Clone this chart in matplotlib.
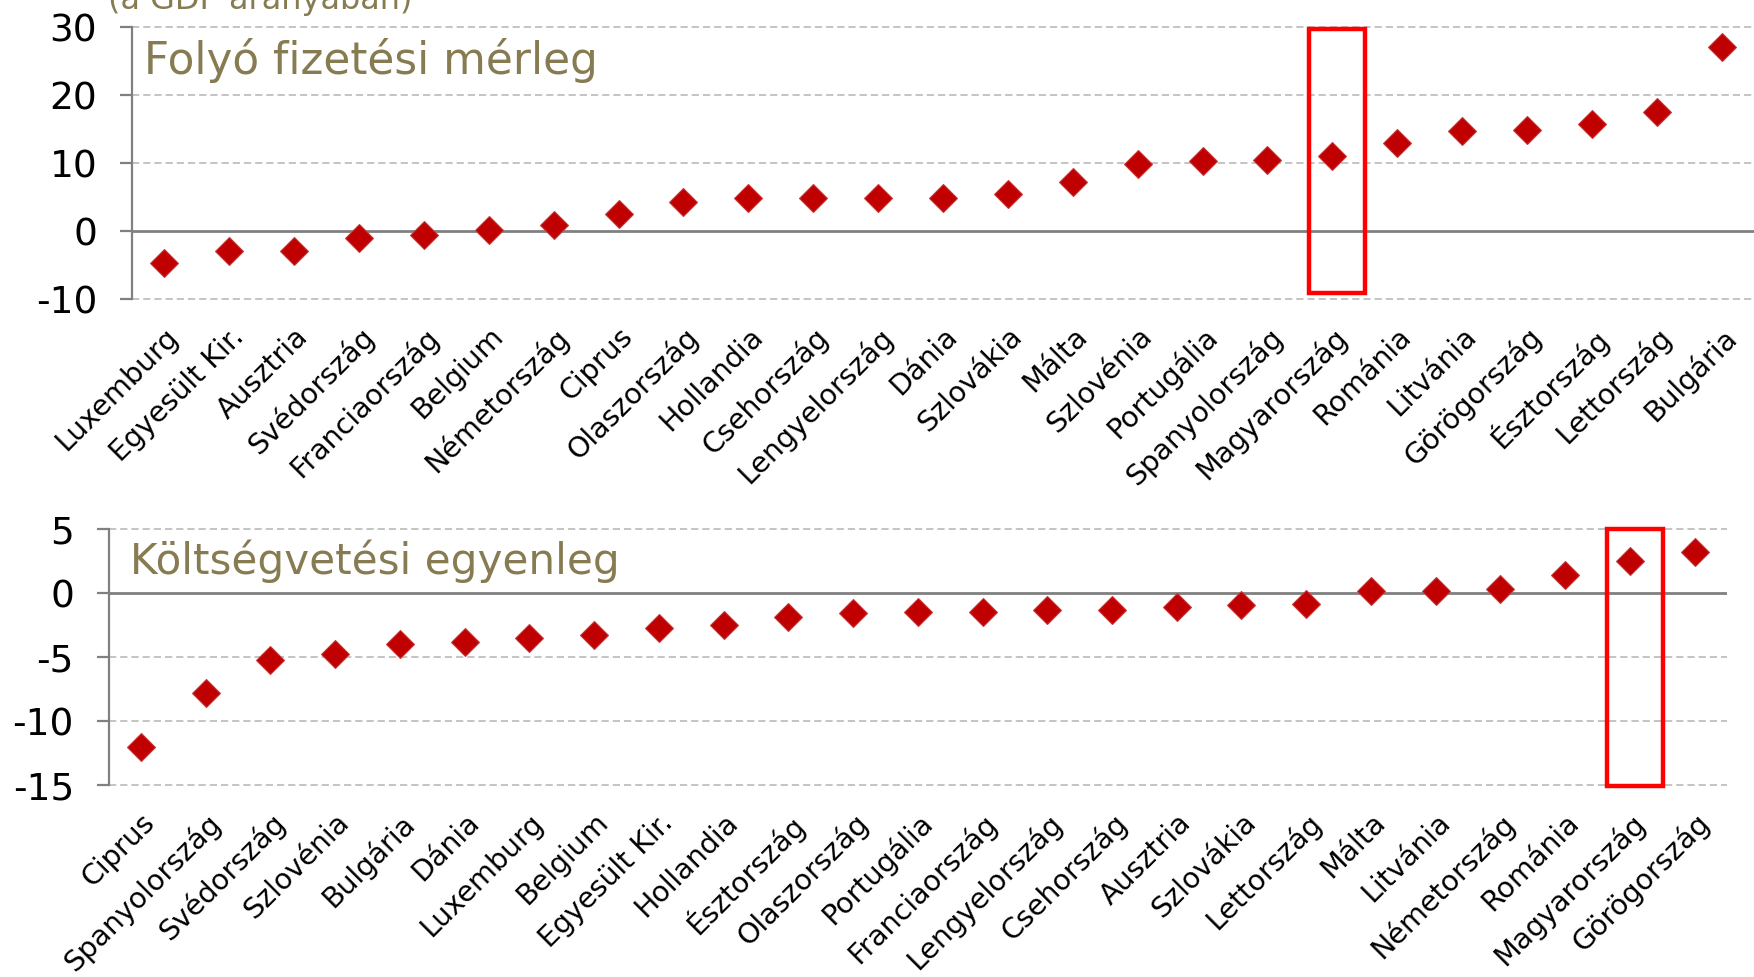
import matplotlib
matplotlib.use("Agg")
import matplotlib.pyplot as plt
from matplotlib.patches import Rectangle

plt.rcParams['font.family'] = ['DejaVu Sans']

# ---- data ----
ca_countries = ["Luxemburg", "Egyesült Kir.", "Ausztria", "Svédország", "Franciaország",
                "Belgium", "Németország", "Ciprus", "Olaszország", "Hollandia",
                "Csehország", "Lengyelország", "Dánia", "Szlovákia", "Málta",
                "Szlovénia", "Portugália", "Spanyolország", "Magyarország", "Románia",
                "Litvánia", "Görögország", "Észtország", "Lettország", "Bulgária"]
ca_values = [-4.75, -3.0, -3.0, -1.0, -0.65, 0.15, 0.85, 2.55, 4.2, 4.8,
             4.8, 4.85, 4.85, 5.4, 7.25, 9.9, 10.3, 10.45, 11.1, 12.9,
             14.7, 14.85, 15.7, 17.5, 27.1]

bb_countries = ["Ciprus", "Spanyolország", "Svédország", "Szlovénia", "Bulgária",
                "Dánia", "Luxemburg", "Belgium", "Egyesült Kir.", "Hollandia",
                "Észtország", "Olaszország", "Portugália", "Franciaország", "Lengyelország",
                "Csehország", "Ausztria", "Szlovákia", "Lettország", "Málta",
                "Litvánia", "Németország", "Románia", "Magyarország", "Görögország"]
bb_values = [-12.0, -7.8, -5.2, -4.8, -4.0, -3.8, -3.5, -3.3, -2.7, -2.5,
             -1.9, -1.55, -1.45, -1.45, -1.35, -1.3, -1.1, -0.95, -0.85, 0.13,
             0.13, 0.3, 1.4, 2.5, 3.2]

ca_ticks = [-10, 0, 10, 20, 30]
bb_ticks = [-15, -10, -5, 0, 5]
ca_title = "Folyó fizetési mérleg"
bb_title = "Költségvetési egyenleg"
unit_label = "(a GDP arányában)"
highlight = "Magyarország"

OLIVE = "#877B52"
RED = "#C00000"

W, H = 1754, 978
fig = plt.figure(figsize=(W / 100, H / 100), dpi=100)

def px_axes(left, right, top, bottom):
    return fig.add_axes([left / W, 1 - bottom / H, (right - left) / W, (bottom - top) / H])

ax1 = px_axes(132, 1754, 28, 300)
ax2 = px_axes(108.6, 1727, 530, 786)

def style(ax, cats, vals, ticks, title, title_x, title_y, title_fs):
    x = list(range(len(cats)))
    ax.set_xlim(-0.5, len(cats) - 0.5)
    ax.set_ylim(ticks[0], ticks[-1])
    ax.set_yticks(ticks)
    ax.set_yticklabels([str(t) for t in ticks], fontsize=27)
    for t in ticks:
        if t != 0:
            ax.axhline(t, color="#BFBFBF", lw=1.3, ls=(0, (4, 2.2)), zorder=1, clip_on=False)
    ax.axhline(0, color="#808080", lw=2.0, zorder=2)
    for s in ["top", "right", "bottom"]:
        ax.spines[s].set_visible(False)
    ax.spines["left"].set_color("#808080")
    ax.spines["left"].set_linewidth(1.6)
    ax.tick_params(axis="y", length=9, width=1.6, color="#808080", pad=16)
    ax.tick_params(axis="x", length=0, pad=16)
    ax.set_xticks(x)
    ax.set_xticklabels(cats, rotation=45, ha="right", rotation_mode="anchor", fontsize=20.5)
    ax.plot(x, vals, ls="none", marker="D", ms=14, color=RED,
            markeredgecolor="#C8363A", markeredgewidth=0.8, zorder=5, clip_on=False)
    ax.text(title_x, title_y, title, transform=ax.transAxes, fontsize=title_fs,
            color=OLIVE, ha="left", va="baseline")
    i = cats.index(highlight)
    return i

i1 = style(ax1, ca_countries, ca_values, ca_ticks, ca_title, 0.0075, 0.83, 31.5)
ax1.add_patch(Rectangle((i1 - 0.36, -9.1), 0.87, 29.7 + 9.1, fill=False,
                        edgecolor="#FF0000", lw=3.2, zorder=6, clip_on=False))
i2 = style(ax2, bb_countries, bb_values, bb_ticks, bb_title, 0.0135, 0.83, 30.3)
ax2.add_patch(Rectangle((i2 - 0.35, -15.05), 0.86, 5 + 15.05, fill=False,
                        edgecolor="#FF0000", lw=3.2, zorder=6, clip_on=False))

fig.text(108 / W, 1 - 9 / H, unit_label, fontsize=23, color=OLIVE, ha="left", va="baseline")

fig.savefig("out.png", dpi=100)
